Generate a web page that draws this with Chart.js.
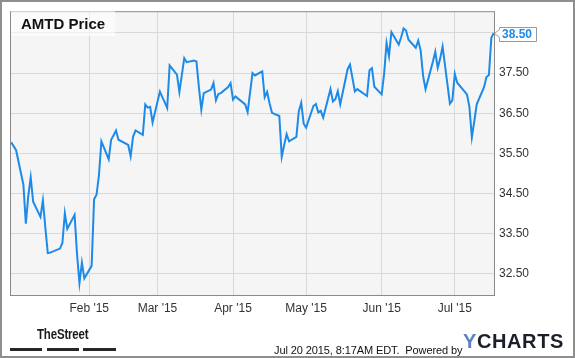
<!DOCTYPE html>
<html><head><meta charset="utf-8">
<script src="https://cdn.jsdelivr.net/npm/chart.js@4"></script>
<style>
html,body{margin:0;padding:0;background:#fff;}
#wrap{position:relative;width:575px;height:358px;overflow:hidden;font-family:"Liberation Sans",Arial,sans-serif;}
#c{position:absolute;left:0;top:0;}
#frame{position:absolute;left:0;top:0;width:575px;height:358px;box-sizing:border-box;border:2px solid #8e8e8e;pointer-events:none;}
#title{position:absolute;left:11px;top:11px;width:104px;height:25px;background:rgba(255,255,255,0.55);font-weight:bold;font-size:15px;line-height:26px;padding-left:10px;box-sizing:border-box;color:#111;white-space:nowrap;}
#street{position:absolute;left:37px;top:326px;font-weight:bold;font-size:14px;line-height:16px;color:#1a1a1a;transform:scaleX(0.82);transform-origin:left top;letter-spacing:-0.2px;}
.bar{position:absolute;top:348px;height:3px;background:#262626;}
#stamp{position:absolute;left:274px;top:343px;font-size:11px;line-height:14px;color:#111;white-space:nowrap;letter-spacing:-0.1px;}
#yc{position:absolute;left:463px;top:331px;font-weight:bold;font-size:20px;line-height:20px;white-space:nowrap;letter-spacing:0.6px;}
#yc .y{color:#5b80c4;}
#yc .r{color:#1b1f2a;}
</style>
</head><body>
<div id="wrap">
<canvas id="c" width="575" height="358"></canvas>
<div id="title">AMTD Price</div>
<div id="street">TheStreet</div>
<div class="bar" style="left:10px;width:32px"></div>
<div class="bar" style="left:47px;width:32px"></div>
<div class="bar" style="left:83px;width:33px"></div>
<div id="stamp">Jul 20 2015, 8:17AM EDT.&nbsp; Powered by</div>
<div id="yc"><span class="y">Y</span><span class="r">CHARTS</span></div>
<div id="frame"></div>
</div>
<script>
// ---- data ----
const dates = [
'2014-12-31','2015-01-02','2015-01-05','2015-01-06','2015-01-07','2015-01-08','2015-01-09',
'2015-01-12','2015-01-13','2015-01-14','2015-01-15','2015-01-16',
'2015-01-20','2015-01-21','2015-01-22','2015-01-23',
'2015-01-26','2015-01-27','2015-01-28','2015-01-29','2015-01-30',
'2015-02-02','2015-02-03','2015-02-04','2015-02-05','2015-02-06',
'2015-02-09','2015-02-10','2015-02-11','2015-02-12','2015-02-13',
'2015-02-17','2015-02-18','2015-02-19','2015-02-20',
'2015-02-23','2015-02-24','2015-02-25','2015-02-26','2015-02-27',
'2015-03-02','2015-03-03','2015-03-04','2015-03-05','2015-03-06',
'2015-03-09','2015-03-10','2015-03-11','2015-03-12','2015-03-13',
'2015-03-16','2015-03-17','2015-03-18','2015-03-19','2015-03-20',
'2015-03-23','2015-03-24','2015-03-25','2015-03-26','2015-03-27',
'2015-03-30','2015-03-31','2015-04-01','2015-04-02',
'2015-04-06','2015-04-07','2015-04-08','2015-04-09','2015-04-10',
'2015-04-13','2015-04-14','2015-04-15','2015-04-16','2015-04-17',
'2015-04-20','2015-04-21','2015-04-22','2015-04-23','2015-04-24',
'2015-04-27','2015-04-28','2015-04-29','2015-04-30','2015-05-01',
'2015-05-04','2015-05-05','2015-05-06','2015-05-07','2015-05-08',
'2015-05-11','2015-05-12','2015-05-13','2015-05-14','2015-05-15',
'2015-05-18','2015-05-19','2015-05-20','2015-05-21','2015-05-22',
'2015-05-26','2015-05-27','2015-05-28','2015-05-29',
'2015-06-01','2015-06-02','2015-06-03','2015-06-04','2015-06-05',
'2015-06-08','2015-06-09','2015-06-10','2015-06-11','2015-06-12',
'2015-06-15','2015-06-16','2015-06-17','2015-06-18','2015-06-19',
'2015-06-22','2015-06-23','2015-06-24','2015-06-25','2015-06-26',
'2015-06-29','2015-06-30','2015-07-01','2015-07-02',
'2015-07-06','2015-07-07','2015-07-08','2015-07-09','2015-07-10',
'2015-07-13','2015-07-14','2015-07-15','2015-07-16','2015-07-17'
];
const prices = [
35.78,35.58,34.72,33.75,34.44,34.90,34.30,
33.92,34.33,33.65,33.02,33.03,
33.13,33.27,34.01,33.62,
33.97,33.00,32.27,32.78,32.39,
32.70,34.36,34.47,34.96,35.80,
35.35,35.84,35.95,36.07,35.84,
35.71,35.43,35.92,36.07,
35.96,36.72,36.64,36.66,36.27,
37.04,36.90,36.77,36.63,37.69,
37.46,37.03,37.45,37.87,37.77,
37.81,37.79,37.15,36.59,37.00,
37.09,37.25,36.82,36.98,37.00,
37.15,37.25,36.84,36.92,
36.72,36.53,37.01,37.50,37.44,
37.54,36.90,37.03,36.75,36.51,
36.43,35.42,35.71,35.98,35.80,
35.91,36.55,36.76,36.24,36.14,
36.68,36.73,36.52,36.56,36.39,
37.10,36.79,36.85,37.05,36.72,
37.59,37.71,37.38,37.04,37.10,
36.93,37.57,37.62,37.16,
36.97,37.48,38.25,37.92,38.52,
38.21,38.39,38.61,38.56,38.33,
38.13,38.31,38.06,37.43,37.10,
37.78,38.03,37.63,37.86,38.16,
36.74,36.82,37.48,37.26,
36.97,36.66,35.90,36.30,36.72,
37.15,37.40,37.45,38.38,38.50
];
const monthTicks = ['2015-02-01','2015-03-01','2015-04-01','2015-05-01','2015-06-01','2015-07-01'];
const monthLabels = ["Feb '15","Mar '15","Apr '15","May '15","Jun '15","Jul '15"];
const yTicks = [32.5,33.5,34.5,35.5,36.5,37.5,38.5];

// ---- helpers ----
const BASE = Date.UTC(2015,0,1);
function dayNum(s){ const p=s.split('-'); return (Date.UTC(+p[0],+p[1]-1,+p[2])-BASE)/86400000; }
const FONT = '"Liberation Sans", Arial, sans-serif';
const LINE = '#1d8ae8';

const framePlugin = {
  id:'frame',
  beforeDraw(ch){
    const a=ch.chartArea, c=ch.ctx;
    c.save(); c.fillStyle='#f5f5f5'; c.fillRect(a.left,a.top,a.right-a.left,a.bottom-a.top); c.restore();
  },
  afterDraw(ch){
    const a=ch.chartArea, c=ch.ctx;
    c.save();
    c.strokeStyle='#8a8a8a'; c.lineWidth=1;
    c.strokeRect(a.left+0.5,a.top+0.5,a.right-a.left-1,a.bottom-a.top-1);
    // last value marker
    const last = prices[prices.length-1];
    const y = Math.round(ch.scales.y.getPixelForValue(last))+0.5;
    const bx=499.5, bw=37, bt=y-6, bb=y+8, tip=a.right-0.5;
    c.beginPath();
    c.moveTo(bx,bt); c.lineTo(bx+bw,bt); c.lineTo(bx+bw,bb); c.lineTo(bx,bb);
    c.lineTo(bx,y+4); c.lineTo(tip,y); c.lineTo(bx,y-4); c.closePath();
    c.fillStyle='#fff'; c.fill();
    c.strokeStyle='#9a9a9a'; c.stroke();
    c.fillStyle=LINE; c.font='bold 12px '+FONT; c.textBaseline='middle'; c.textAlign='left';
    c.fillText(last.toFixed(2), 502, y+1);
    c.restore();
  }
};

new Chart(document.getElementById('c').getContext('2d'), {
  type:'line',
  data:{ datasets:[{
    data: dates.map((d,i)=>({x:dayNum(d), y:prices[i]})),
    borderColor:LINE, borderWidth:2, pointRadius:0, tension:0, fill:false
  }]},
  options:{
    responsive:false, animation:false, devicePixelRatio:1,
    layout:{padding:{left:10,top:10,right:0,bottom:0}},
    plugins:{legend:{display:false}, tooltip:{enabled:false}},
    scales:{
      x:{
        type:'linear', min:-1.5, max:197.5,
        afterBuildTicks:s=>{ s.ticks = monthTicks.map(m=>({value:dayNum(m)})); },
        afterFit:s=>{ s.height = 62; },
        ticks:{ callback:(v,i)=>monthLabels[i], font:{size:12,family:FONT}, color:'#333', padding:5, maxRotation:0, autoSkip:false },
        grid:{ color:'#d9d9d9', drawTicks:false },
        border:{display:false}
      },
      y:{
        position:'right', min:31.95, max:39.04,
        afterBuildTicks:s=>{ s.ticks = yTicks.map(v=>({value:v})); },
        afterFit:s=>{ s.width = 80; },
        ticks:{ callback:v=>Number(v).toFixed(2), font:{size:12,family:FONT}, color:'#333', padding:4 },
        grid:{ color:'#d9d9d9', drawTicks:false },
        border:{display:false}
      }
    }
  },
  plugins:[framePlugin]
});
</script>
</body></html>
